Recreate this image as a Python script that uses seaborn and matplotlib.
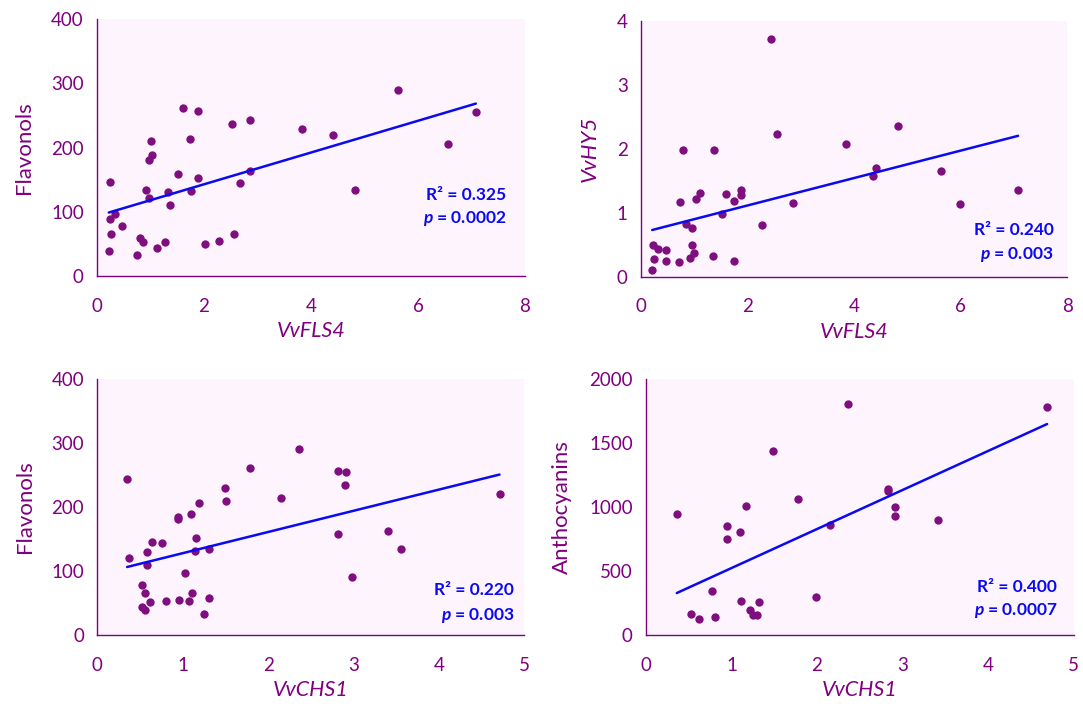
import matplotlib
matplotlib.use("Agg")
import matplotlib.pyplot as plt
import seaborn as sns
import pandas as pd

# --- data ---
fls4_a = [0.24, 0.24, 0.33, 0.27, 0.22, 0.47, 0.74, 0.80, 0.86, 0.92, 0.97, 0.97, 1.03,
          1.01, 1.12, 1.27, 1.33, 1.37, 1.52, 1.61, 1.74, 1.76, 1.88, 1.89, 2.01, 2.28,
          2.53, 2.56, 2.67, 2.85, 2.85, 3.83, 4.41, 4.82, 5.62, 6.56, 7.08]
flav_a = [146, 89, 97, 66, 39, 78, 33, 59, 53, 134, 121, 181, 189,
          210, 43, 53, 131, 111, 158, 261, 214, 132, 257, 152, 50, 55,
          236, 66, 144, 243, 163, 229, 220, 134, 290, 206, 255]

fls4_b = [0.21, 0.23, 0.25, 0.31, 0.47, 0.46, 0.71, 0.73, 0.78, 0.84, 0.96, 0.96, 0.92,
          1.00, 1.04, 1.11, 1.35, 1.37, 1.52, 1.60, 1.75, 1.75, 1.88, 1.88, 2.27, 2.44,
          2.55, 2.85, 3.85, 4.35, 4.41, 4.82, 5.63, 5.99, 7.08]
hy5_b = [0.11, 0.50, 0.28, 0.44, 0.42, 0.25, 0.23, 1.16, 1.98, 0.82, 0.76, 0.50, 0.30,
         0.37, 1.22, 1.31, 0.32, 1.98, 0.98, 1.30, 1.18, 0.25, 1.36, 1.28, 0.81, 3.72,
         2.23, 1.15, 2.08, 1.57, 1.70, 2.35, 1.65, 1.13, 1.36]

chs1_c = [0.35, 0.375, 0.52, 0.52, 0.56, 0.56, 0.58, 0.58, 0.62, 0.64, 0.76, 0.80, 0.95,
          0.95, 0.96, 1.03, 1.07, 1.10, 1.11, 1.15, 1.16, 1.19, 1.25, 1.31, 1.31, 1.49,
          1.51, 1.79, 2.15, 2.36, 2.82, 2.91, 2.90, 2.82, 2.98, 3.41, 3.56, 4.71]
flav_c = [243, 120, 78, 43, 39, 66, 110, 130, 51, 146, 144, 53, 181,
          184, 55, 97, 53, 189, 66, 132, 152, 206, 33, 58, 134, 230,
          210, 261, 214, 290, 257, 255, 235, 158, 90, 163, 134, 220]

chs1_d = [0.36, 0.53, 0.62, 0.77, 0.81, 0.95, 0.95, 1.10, 1.11, 1.17, 1.22, 1.25, 1.30,
          1.32, 1.49, 1.78, 1.99, 2.15, 2.36, 2.83, 2.83, 2.91, 2.91, 3.41, 4.69]
antho_d = [949, 167, 128, 344, 141, 850, 751, 803, 266, 1009, 198, 156, 156,
           256, 1437, 1066, 295, 858, 1807, 1139, 1124, 999, 926, 900, 1781]

r2_labels = ["R² = 0.325", "R² = 0.240", "R² = 0.220", "R² = 0.400"]
p_labels = ["$p$ = 0.0002", "$p$ = 0.003", "$p$ = 0.003", "$p$ = 0.0007"]

sns.set_style("white")
plt.rcParams["font.family"] = ["Lato", "DejaVu Sans"]
plt.rcParams["mathtext.fontset"] = "custom"
plt.rcParams["mathtext.it"] = "Lato:italic:bold"
plt.rcParams["mathtext.rm"] = "Lato:bold"

purple = "#800080"
dot = "#7f0f7f"
blue = "#0a0af0"
bg = "#fdf4fd"

panels = [
    dict(x=fls4_a, y=flav_a, xl="VvFLS4", yl="Flavonols", yit=False,
         xlim=(0, 8), xt=[0, 2, 4, 6, 8], ylim=(0, 400), yt=[0, 100, 200, 300, 400],
         rect=[0.0896, 0.6107, 0.3952, 0.3625], tx=0.956, ty=(0.315, 0.222)),
    dict(x=fls4_b, y=hy5_b, xl="VvFLS4", yl="VvHY5", yit=True,
         xlim=(0, 8), xt=[0, 2, 4, 6, 8], ylim=(0, 4), yt=[0, 1, 2, 3, 4],
         rect=[0.5919, 0.6097, 0.3934, 0.3610], tx=0.969, ty=(0.182, 0.085)),
    dict(x=chs1_c, y=flav_c, xl="VvCHS1", yl="Flavonols", yit=False,
         xlim=(0, 5), xt=[0, 1, 2, 3, 4, 5], ylim=(0, 400), yt=[0, 100, 200, 300, 400],
         rect=[0.0898, 0.1044, 0.3943, 0.3610], tx=0.976, ty=(0.176, 0.078)),
    dict(x=chs1_d, y=antho_d, xl="VvCHS1", yl="Anthocyanins", yit=False,
         xlim=(0, 5), xt=[0, 1, 2, 3, 4, 5], ylim=(0, 2000), yt=[0, 500, 1000, 1500, 2000],
         rect=[0.5965, 0.1044, 0.3948, 0.3610], tx=0.962, ty=(0.1875, 0.094)),
]

fig = plt.figure(figsize=(10.83, 7.09), dpi=100)

for i, p in enumerate(panels):
    ax = fig.add_axes(p["rect"])
    ax.set_facecolor(bg)
    df = pd.DataFrame({"x": p["x"], "y": p["y"]})
    sns.regplot(data=df, x="x", y="y", ax=ax, ci=None, truncate=True,
                scatter_kws=dict(s=36, color=dot, linewidths=0, alpha=1),
                line_kws=dict(color=blue, lw=1.8))
    ax.set_xlim(*p["xlim"])
    ax.set_ylim(*p["ylim"])
    ax.set_xticks(p["xt"])
    ax.set_yticks(p["yt"])
    for s in ["top", "right"]:
        ax.spines[s].set_visible(False)
    for s in ["left", "bottom"]:
        ax.spines[s].set_color(purple)
        ax.spines[s].set_linewidth(1.0)
    ax.tick_params(axis="both", colors=purple, labelcolor=purple, labelsize=13.5,
                   direction="out", length=4.5, width=1.0)
    ax.tick_params(axis="x", pad=11)
    ax.tick_params(axis="y", pad=5)
    ax.set_xlabel(p["xl"], fontsize=15.5, color=purple, style="italic", labelpad=5)
    ax.set_ylabel(p["yl"], fontsize=16, color=purple,
                  style="italic" if p["yit"] else "normal", labelpad=12)
    ax.text(p["tx"], p["ty"][0], r2_labels[i], transform=ax.transAxes, ha="right",
            va="center", color=blue, fontsize=12.5, fontweight="bold")
    ax.text(p["tx"], p["ty"][1], p_labels[i], transform=ax.transAxes, ha="right",
            va="center", color=blue, fontsize=12.5, fontweight="bold")

fig.savefig("out.png", dpi=100)
